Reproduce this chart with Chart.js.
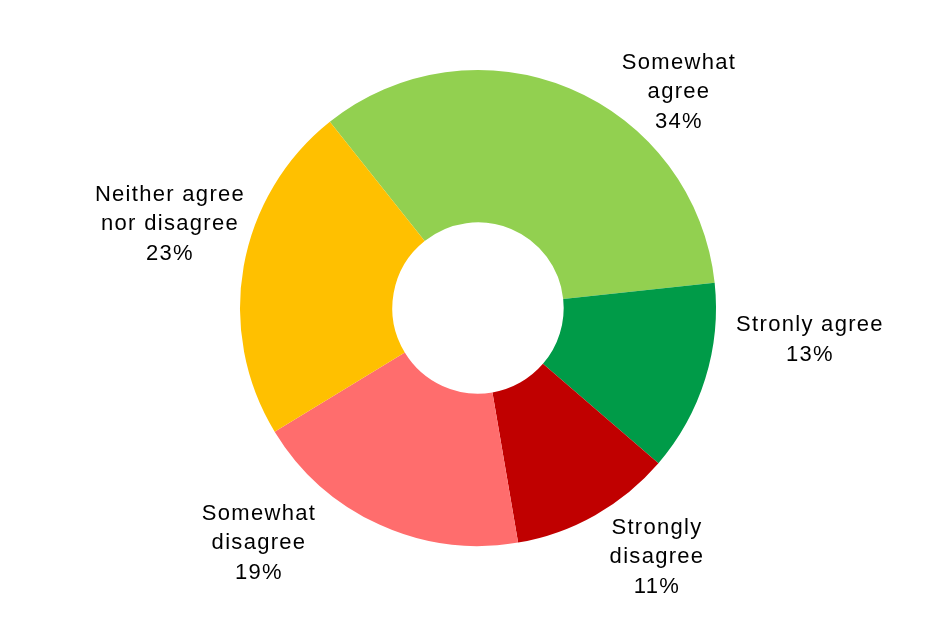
<!DOCTYPE html>
<html>
<head>
<meta charset="utf-8">
<script src="https://cdn.jsdelivr.net/npm/chart.js@4/dist/chart.umd.min.js"></script>
<style>
  html, body { margin: 0; padding: 0; background: #fff; }
  canvas { display: block; }
</style>
</head>
<body>
<canvas id="pie" width="937" height="619"></canvas>
<script>
// survey answers, clockwise from the top-left edge of "Somewhat agree"
const categories = ['Somewhat agree', 'Stronly agree', 'Strongly disagree', 'Somewhat disagree', 'Neither agree nor disagree'];
const shares = [34, 13, 11, 19, 23];
const labelLines = [
  ['Somewhat', 'agree'],
  ['Stronly agree'],
  ['Strongly', 'disagree'],
  ['Somewhat', 'disagree'],
  ['Neither agree', 'nor disagree'],
];
const sliceColors = ['#92D050', '#009B48', '#C00000', '#FF6D6D', '#FFC000'];

// where each label block sits, relative to the ring centre
const labelOffsets = [[201, -216], [332, 32], [179, 249], [-219, 235], [-308, -84]];

const outsideLabels = {
  id: 'outsideLabels',
  afterDatasetsDraw(chart) {
    const ctx = chart.ctx;
    const arcs = chart.getDatasetMeta(0).data;
    const lineH = 29.5;
    ctx.save();
    ctx.font = '22px "Liberation Sans", Arial, sans-serif';
    ctx.letterSpacing = '1.3px';
    ctx.fillStyle = '#000';
    ctx.textAlign = 'center';
    ctx.textBaseline = 'middle';
    arcs.forEach((arc, i) => {
      const lines = labelLines[i].concat(shares[i] + '%');
      const cx = arc.x + labelOffsets[i][0];
      const cy = arc.y + labelOffsets[i][1];
      const top = cy - (lines.length - 1) * lineH / 2;
      lines.forEach((t, j) => ctx.fillText(t, cx, top + j * lineH));
    });
    ctx.restore();
  }
};

new Chart(document.getElementById('pie'), {
  type: 'doughnut',
  data: {
    labels: categories,
    datasets: [{
      data: shares,
      backgroundColor: sliceColors,
      borderWidth: 0,
      hoverOffset: 0,
    }],
  },
  options: {
    responsive: false,
    animation: false,
    rotation: -38.5,
    cutout: '36%',
    layout: { padding: { left: 240, right: 221, top: 70, bottom: 73 } },
    plugins: {
      legend: { display: false },
      tooltip: { enabled: false },
    },
  },
  plugins: [outsideLabels],
});
</script>
</body>
</html>
